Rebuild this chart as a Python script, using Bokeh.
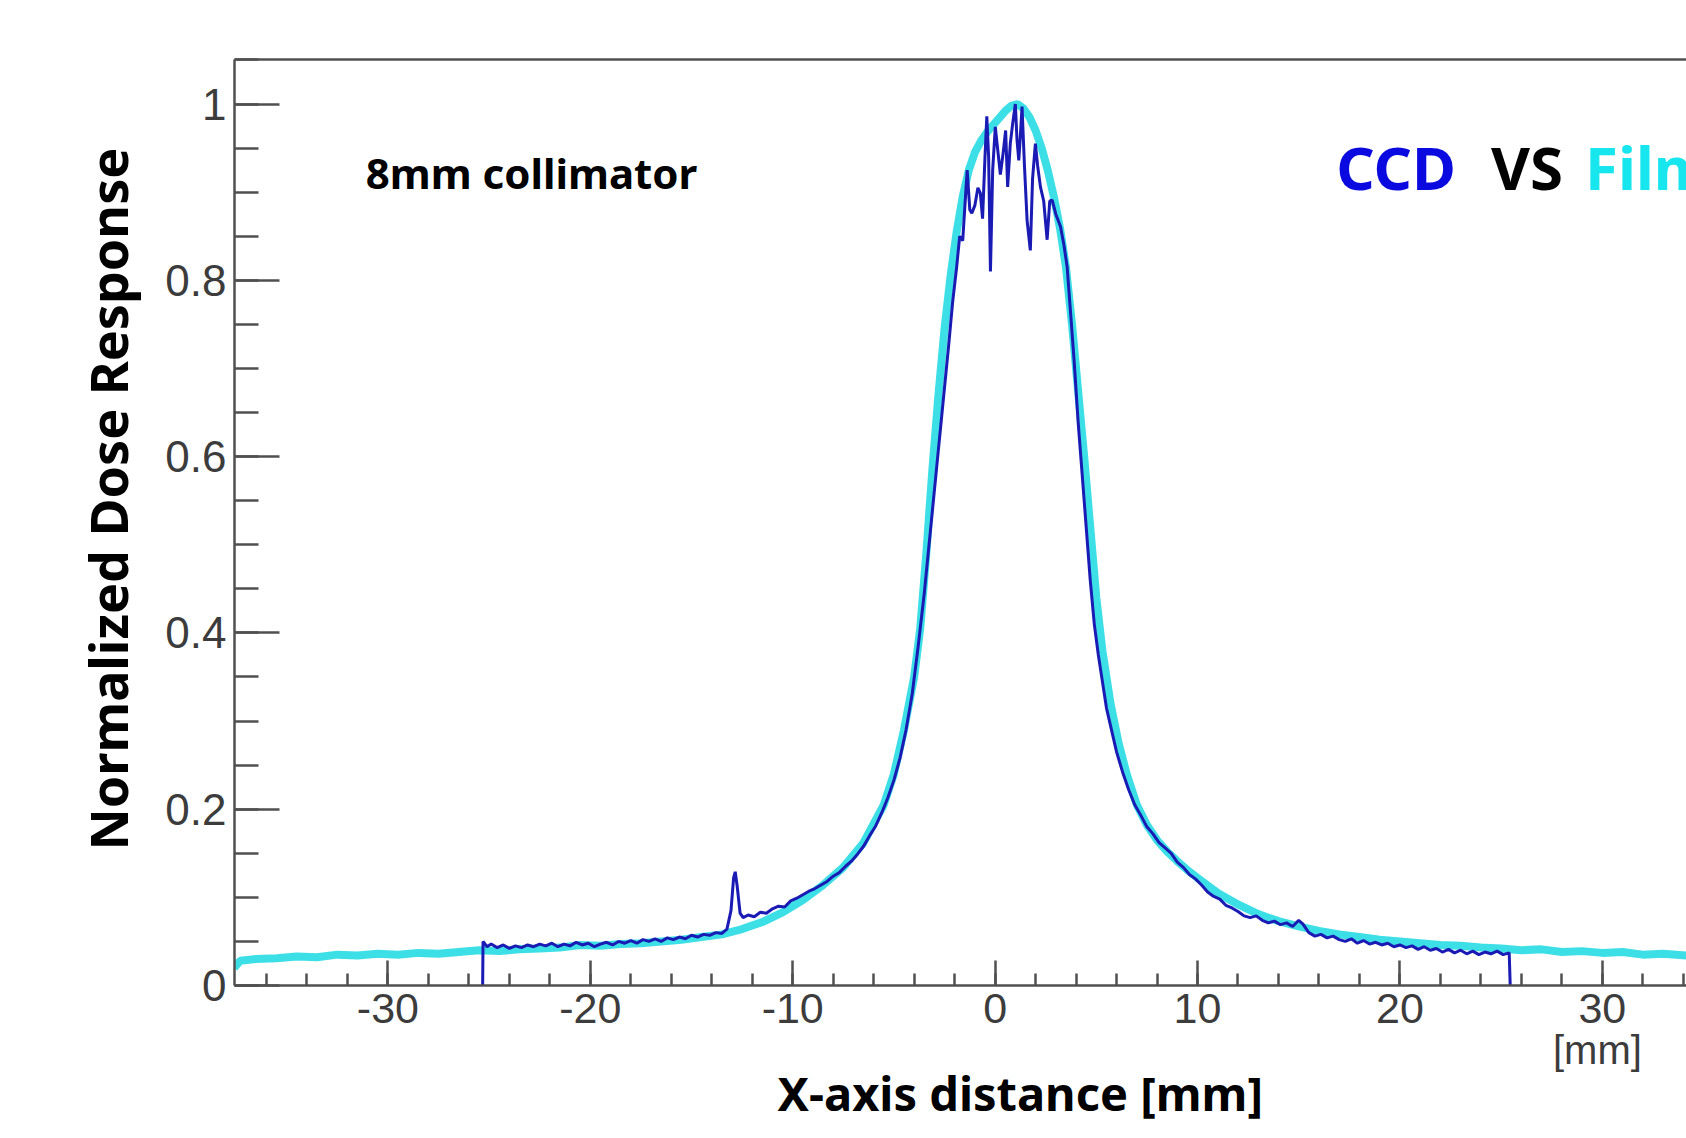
from bokeh.plotting import figure
from bokeh.models import Label, LinearAxis, FixedTicker, Range1d, SingleIntervalTicker, Title
from bokeh.embed import file_html
from bokeh.resources import INLINE

# ---- data ----
film_x = [-37.6, -37.3, -36.5, -35.5, -34.5, -33.5, -32.5, -31.5, -30.5, -29.5, -28.5, -27.5,
          -26.5, -25.5, -24.5, -23.5, -22.5, -21.5, -20.5, -19.5, -18.5, -17.5, -16.5, -15.5,
          -14.5, -13.5, -12.5, -11.5, -10.5, -9.5, -8.5, -7.5, -6.5, -5.5, -5.0, -4.5, -4.0,
          -3.7, -3.4, -3.1, -2.8, -2.5, -2.2, -1.9, -1.6, -1.3, -1.0, -0.7, -0.4, -0.1, 0.2,
          0.5, 0.8, 1.1, 1.4, 1.7, 2.0, 2.3, 2.6, 2.9, 3.2, 3.5, 3.8, 4.1, 4.4, 4.7, 5.0, 5.3,
          5.7, 6.1, 6.5, 7.0, 7.5, 8.0, 8.5, 9.0, 9.5, 10.0, 11.0, 12.0, 13.0, 14.0, 15.0,
          16.0, 17.0, 18.0, 19.0, 20.0, 21.0, 22.0, 23.0, 24.0, 25.0, 26.0, 27.0, 28.0, 29.0,
          30.0, 31.0, 32.0, 33.0, 34.2]
film_y = [0.020, 0.028, 0.030, 0.031, 0.033, 0.032, 0.035, 0.034, 0.036, 0.035, 0.037, 0.036,
          0.038, 0.040, 0.039, 0.041, 0.042, 0.043, 0.046, 0.045, 0.047, 0.048, 0.050, 0.052,
          0.055, 0.058, 0.064, 0.072, 0.083, 0.097, 0.114, 0.134, 0.162, 0.205, 0.240, 0.290,
          0.350, 0.405, 0.490, 0.585, 0.670, 0.745, 0.805, 0.855, 0.895, 0.925, 0.945, 0.958,
          0.968, 0.976, 0.984, 0.992, 0.998, 1.000, 0.995, 0.985, 0.970, 0.950, 0.925, 0.895,
          0.860, 0.815, 0.750, 0.675, 0.600, 0.520, 0.440, 0.380, 0.320, 0.275, 0.240, 0.205,
          0.182, 0.165, 0.152, 0.141, 0.131, 0.122, 0.105, 0.092, 0.081, 0.073, 0.067, 0.062,
          0.058, 0.055, 0.052, 0.050, 0.048, 0.046, 0.045, 0.043, 0.042, 0.040, 0.041, 0.038,
          0.039, 0.037, 0.038, 0.035, 0.036, 0.034]

ccd_x = [-25.32, -25.3, -25.1, -24.9, -24.6, -24.3, -24.0, -23.7, -23.4, -23.1, -22.8, -22.5,
         -22.2, -21.9, -21.6, -21.3, -21.0, -20.7, -20.4, -20.1, -19.8, -19.5, -19.2, -18.9,
         -18.6, -18.3, -18.0, -17.7, -17.4, -17.1, -16.8, -16.5, -16.2, -15.9, -15.6, -15.3,
         -15.0, -14.7, -14.4, -14.1, -13.8, -13.5, -13.25, -13.05, -12.92, -12.84, -12.74,
         -12.6, -12.45, -12.2, -11.9, -11.6, -11.3, -11.0, -10.7, -10.4, -10.1, -9.8, -9.5,
         -9.2, -8.9, -8.6, -8.3, -8.0, -7.7, -7.4, -7.1, -6.8, -6.5, -6.2, -5.9, -5.6, -5.3,
         -5.0, -4.7, -4.4, -4.1, -3.8, -3.5, -3.2, -2.9, -2.6, -2.3, -2.1, -1.9, -1.75, -1.6,
         -1.45, -1.38, -1.25, -1.15, -1.0, -0.85, -0.73, -0.62, -0.5, -0.41, -0.32, -0.23,
         -0.12, 0.01, 0.12, 0.26, 0.4, 0.52, 0.62, 0.75, 0.88, 1.0, 1.08, 1.17, 1.25, 1.33,
         1.45, 1.58, 1.74, 1.85, 1.99, 2.1, 2.24, 2.4, 2.57, 2.7, 2.82, 3.0, 3.23, 3.4, 3.56,
         3.72, 3.9, 4.1, 4.3, 4.5, 4.7, 4.9, 5.1, 5.3, 5.5, 5.75, 6.0, 6.3, 6.6, 6.9, 7.2, 7.5,
         7.8, 8.1, 8.4, 8.7, 9.0, 9.3, 9.6, 9.9, 10.2, 10.5, 10.8, 11.1, 11.4, 11.7, 12.0,
         12.3, 12.6, 12.9, 13.2, 13.5, 13.8, 14.1, 14.4, 14.7, 15.0, 15.2, 15.5, 15.8, 16.1,
         16.4, 16.7, 17.0, 17.3, 17.6, 17.9, 18.2, 18.5, 18.8, 19.1, 19.4, 19.7, 20.0, 20.3,
         20.6, 20.9, 21.2, 21.5, 21.8, 22.1, 22.4, 22.7, 23.0, 23.3, 23.6, 23.9, 24.2, 24.5,
         24.8, 25.1, 25.4, 25.45]
ccd_y = [0.0, 0.050, 0.044, 0.047, 0.043, 0.046, 0.042, 0.045, 0.043, 0.046, 0.044, 0.047,
         0.045, 0.048, 0.044, 0.047, 0.045, 0.049, 0.046, 0.048, 0.044, 0.047, 0.049, 0.046,
         0.050, 0.048, 0.051, 0.048, 0.052, 0.050, 0.053, 0.050, 0.054, 0.052, 0.055, 0.053,
         0.057, 0.055, 0.058, 0.057, 0.060, 0.059, 0.064, 0.085, 0.122, 0.129, 0.112,
         0.082, 0.077, 0.080, 0.078, 0.083, 0.082, 0.087, 0.090, 0.089, 0.096, 0.099, 0.103,
         0.107, 0.110, 0.114, 0.118, 0.124, 0.128, 0.135, 0.141, 0.149, 0.158, 0.170, 0.181,
         0.196, 0.213, 0.233, 0.258, 0.290, 0.330, 0.385, 0.445, 0.515, 0.585, 0.655, 0.725,
         0.775, 0.815, 0.850, 0.845, 0.900, 0.925, 0.880, 0.876, 0.885, 0.905, 0.899, 0.870,
         0.940, 0.986, 0.940, 0.810, 0.925, 0.974, 0.950, 0.920, 0.945, 0.970, 0.906, 0.955,
         0.980, 1.000, 0.960, 0.936, 0.965, 0.997, 0.930, 0.868, 0.834, 0.915, 0.955, 0.930,
         0.906, 0.890, 0.846, 0.890, 0.891, 0.875, 0.861, 0.840, 0.815, 0.766, 0.710, 0.640,
         0.580, 0.520, 0.460, 0.410, 0.375, 0.345, 0.315, 0.290, 0.265, 0.242, 0.222, 0.205,
         0.193, 0.180, 0.172, 0.162, 0.156, 0.150, 0.140, 0.134, 0.126, 0.121, 0.114, 0.106,
         0.101, 0.098, 0.091, 0.088, 0.084, 0.079, 0.077, 0.079, 0.074, 0.071, 0.073, 0.069,
         0.071, 0.067, 0.074, 0.070, 0.060, 0.056, 0.058, 0.054, 0.056, 0.052, 0.050, 0.053,
         0.048, 0.051, 0.047, 0.049, 0.046, 0.048, 0.044, 0.046, 0.043, 0.045, 0.041, 0.044,
         0.040, 0.042, 0.038, 0.041, 0.037, 0.040, 0.036, 0.039, 0.035, 0.038, 0.036, 0.039,
         0.035, 0.037, 0.0]

x_tick_text = {-30: "-30", -20: "-20", -10: "-10"}
y_tick_text = {0: "0", 1: "1"}
unit_pos = 29.76

# ---- figure ----
p = figure(width=1686, height=1130,
           x_range=Range1d(-37.58, 34.16), y_range=Range1d(0, 1.0505),
           output_backend="svg", toolbar_location=None,
           min_border_left=234, min_border_top=59, min_border_right=0, min_border_bottom=145,
           background_fill_color="white", border_fill_color="white")
p.outline_line_color = None
p.xgrid.visible = False
p.ygrid.visible = False

axis_col = "#505050"
lab_col = "#3c3c3c"

xa = p.xaxis[0]
xa.ticker = SingleIntervalTicker(interval=10, num_minor_ticks=5)
xa.axis_line_color = axis_col
xa.axis_line_width = 2.5
xa.major_tick_line_color = axis_col
xa.major_tick_line_width = 2.5
xa.minor_tick_line_color = axis_col
xa.minor_tick_line_width = 2.5
xa.major_tick_in = 25
xa.major_tick_out = 0
xa.minor_tick_in = 12
xa.minor_tick_out = 0
xa.major_label_standoff = 8
xa.major_label_text_font = "Liberation Sans"
xa.major_label_text_font_size = "43px"
xa.major_label_text_color = lab_col
xa.major_label_overrides = x_tick_text

ya = p.yaxis[0]
ya.ticker = SingleIntervalTicker(interval=0.2, num_minor_ticks=4)
ya.axis_line_color = axis_col
ya.axis_line_width = 2.5
ya.major_tick_line_color = axis_col
ya.major_tick_line_width = 2.5
ya.minor_tick_line_color = axis_col
ya.minor_tick_line_width = 2.5
ya.major_tick_in = 45
ya.major_tick_out = 0
ya.minor_tick_in = 24
ya.minor_tick_out = 0
ya.major_label_standoff = 8
ya.major_label_text_font = "Liberation Sans"
ya.major_label_text_font_size = "44px"
ya.major_label_text_color = lab_col
ya.major_label_overrides = y_tick_text

top = LinearAxis(ticker=FixedTicker(ticks=[]), axis_line_color=axis_col, axis_line_width=2.5,
                 major_tick_line_color=None, minor_tick_line_color=None,
                 major_label_text_font_size="0px")
p.add_layout(top, "above")

# unit text under the "30" tick, as a second bottom axis
unit_axis = LinearAxis(ticker=FixedTicker(ticks=[unit_pos]), axis_line_color=None,
                       major_tick_line_color=None, minor_tick_line_color=None,
                       major_label_standoff=-4, major_label_text_font="Liberation Sans",
                       major_label_text_font_size="40px", major_label_text_color=lab_col,
                       major_label_overrides={unit_pos: "[mm]"})
p.add_layout(unit_axis, "below")

p.add_layout(Title(text="X-axis distance [mm]", align="left", offset=543, standoff=-32,
                   text_font="Noto Sans", text_font_style="bold", text_font_size="47px",
                   text_color="black"), "below")
p.add_layout(Title(text="Normalized Dose Response", align="left", offset=135, standoff=40,
                   text_font="Noto Sans", text_font_style="bold", text_font_size="52px",
                   text_color="black"), "left")

# ---- data lines ----
p.line(film_x, film_y, line_color="#3ddfe6", line_width=8)
p.line(ccd_x, ccd_y, line_color="#1a1ab4", line_width=3)

# ---- texts inside the frame ----
def lab(x, y, text, size, color="black"):
    p.add_layout(Label(x=x, y=y, text=text, text_font="Noto Sans", text_font_size=size,
                       text_font_style="bold", text_color=color,
                       text_align="left", text_baseline="middle"))

lab(-31.1, 0.922, "8mm collimator", "42px")
lab(16.85, 0.929, "CCD", "60px", color="#0a0ae0")
lab(24.5, 0.929, "VS", "60px", color="black")
lab(29.15, 0.929, "Film", "60px", color="#18e6ee")

open("out.html", "w").write(file_html(p, INLINE))
